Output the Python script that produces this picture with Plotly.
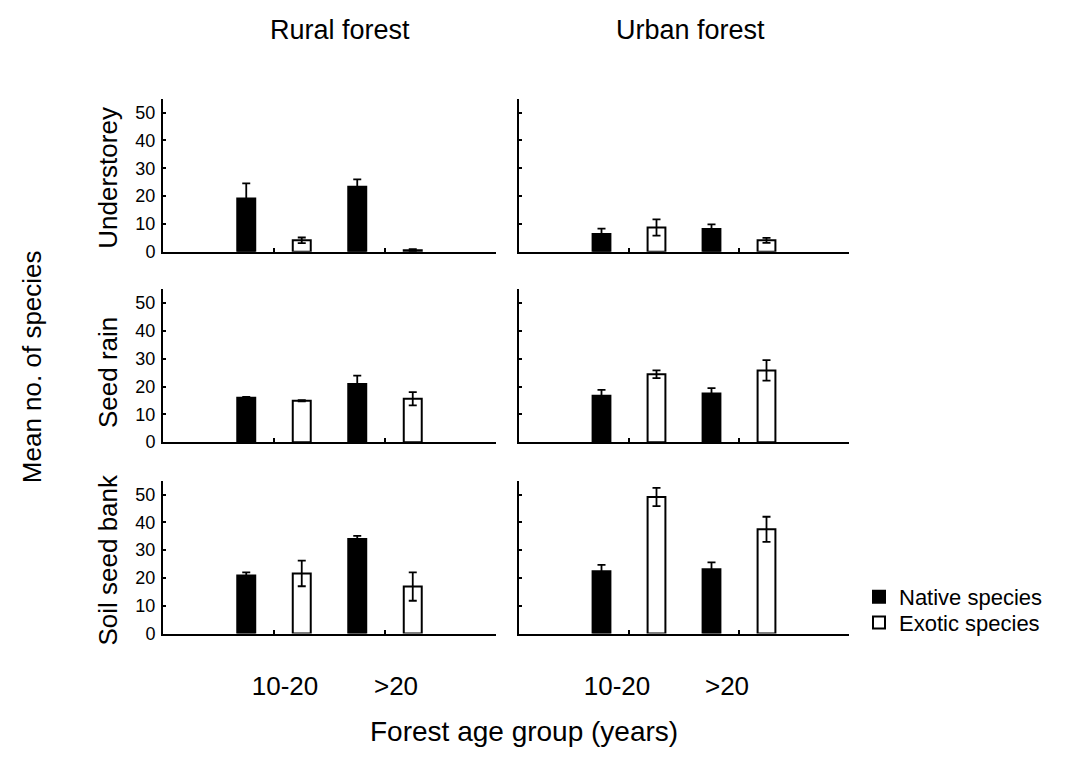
import plotly.graph_objects as go

# ---------------- data ----------------
age_groups = ["10-20", ">20"]
habitats = ["Rural forest", "Urban forest"]
layers = ["Understorey", "Seed rain", "Soil seed bank"]

# mean number of species  [10-20, >20]
native_understorey_rural = [19.1, 23.4]
native_understorey_rural_se = [5.5, 2.6]
exotic_understorey_rural = [4.1, 0.5]
exotic_understorey_rural_se = [1.0, 0.4]
native_understorey_urban = [6.4, 8.2]
native_understorey_urban_se = [1.9, 1.6]
exotic_understorey_urban = [8.7, 4.1]
exotic_understorey_urban_se = [2.9, 0.9]

native_seedrain_rural = [16.0, 20.9]
native_seedrain_rural_se = [0.3, 3.0]
exotic_seedrain_rural = [14.9, 15.6]
exotic_seedrain_rural_se = [0.2, 2.4]
native_seedrain_urban = [16.7, 17.5]
native_seedrain_urban_se = [2.1, 1.9]
exotic_seedrain_urban = [24.4, 25.8]
exotic_seedrain_urban_se = [1.4, 3.7]

native_soil_rural = [20.9, 34.0]
native_soil_rural_se = [1.1, 1.1]
exotic_soil_rural = [21.6, 16.9]
exotic_soil_rural_se = [4.6, 5.1]
native_soil_urban = [22.4, 23.1]
native_soil_urban_se = [2.3, 2.5]
exotic_soil_urban = [49.1, 37.5]
exotic_soil_urban_se = [3.3, 4.5]

y_ticks = [0, 10, 20, 30, 40, 50]

panels = [
    # (row, col, native, native_se, exotic, exotic_se)
    (0, 0, native_understorey_rural, native_understorey_rural_se, exotic_understorey_rural, exotic_understorey_rural_se),
    (0, 1, native_understorey_urban, native_understorey_urban_se, exotic_understorey_urban, exotic_understorey_urban_se),
    (1, 0, native_seedrain_rural, native_seedrain_rural_se, exotic_seedrain_rural, exotic_seedrain_rural_se),
    (1, 1, native_seedrain_urban, native_seedrain_urban_se, exotic_seedrain_urban, exotic_seedrain_urban_se),
    (2, 0, native_soil_rural, native_soil_rural_se, exotic_soil_rural, exotic_soil_rural_se),
    (2, 1, native_soil_urban, native_soil_urban_se, exotic_soil_urban, exotic_soil_urban_se),
]

# ---------------- layout helpers (pixel -> paper) ----------------
W, H = 1073, 750
OX, OY = 8, 8
FONT = "Liberation Sans, Arial, sans-serif"


def fx(px):
    return (px - OX) / W


def fy(py):
    return 1 - (py - OY) / H


col_px = [(163, 496), (519, 849)]
row_px = [(100, 255), (293, 448), (487, 642)]

fig = go.Figure()
layout = {}

x_pos = [i + 1 for i in range(len(age_groups))]

for k, (r, c, nat, nat_se, exo, exo_se) in enumerate(panels):
    idx = k + 1
    xa = "x" if idx == 1 else f"x{idx}"
    ya = "y" if idx == 1 else f"y{idx}"
    err_style = dict(type="data", visible=True, color="black", thickness=1.8, width=4)
    fig.add_trace(go.Bar(
        x=x_pos, y=nat, name="Native species",
        error_y=dict(array=nat_se, **err_style),
        marker=dict(color="black", line=dict(color="black", width=2)),
        xaxis=xa, yaxis=ya, showlegend=(k == 0), legend="legend",
    ))
    fig.add_trace(go.Bar(
        x=x_pos, y=exo, name="Exotic species",
        error_y=dict(array=exo_se, **err_style),
        marker=dict(color="white", line=dict(color="black", width=2)),
        xaxis=xa, yaxis=ya, showlegend=(k == 0), legend="legend2",
    ))
    xkey = "xaxis" if idx == 1 else f"xaxis{idx}"
    ykey = "yaxis" if idx == 1 else f"yaxis{idx}"
    x0, x1 = col_px[c]
    ytop, ybot = row_px[r]
    bottom = (r == 2)
    layout[xkey] = dict(
        domain=[fx(x0), fx(x1)], anchor=ya, range=[0, 3],
        tickvals=[1, 2, 3],
        ticktext=(age_groups + [""]) if bottom else ["", "", ""],
        showticklabels=bottom,
        ticks="inside", ticklen=4, tickwidth=1.5, tickcolor="black",
        showline=True, linecolor="black", linewidth=2,
        showgrid=False, zeroline=False, fixedrange=True,
        tickfont=dict(family=FONT, size=26, color="black"),
        ticklabelstandoff=28,
        ticklabelshift=(11 if c == 0 else -12),
    )
    layout[ykey] = dict(
        domain=[fy(ybot), fy(ytop)], anchor=xa, range=[0, 55],
        tickvals=y_ticks, showticklabels=(c == 0),
        ticks="inside", ticklen=3, tickwidth=1.5, tickcolor="black",
        showline=True, linecolor="black", linewidth=2,
        showgrid=False, zeroline=False, fixedrange=True,
        tickfont=dict(family=FONT, size=18, color="black"),
        ticklabelstandoff=2,
    )

annotations = [
    dict(text=habitats[0], x=fx(340), y=fy(30), size=27),
    dict(text=habitats[1], x=fx(690), y=fy(30), size=27),
    dict(text=layers[0], x=fx(108), y=fy(180), size=26, angle=-90),
    dict(text=layers[1], x=fx(108), y=fy(378), size=26, angle=-90),
    dict(text=layers[2], x=fx(108), y=fy(567), size=26, angle=-90),
    dict(text="Mean no. of species", x=fx(32), y=fy(372), size=26, angle=-90),
    dict(text="Forest age group (years)", x=fx(524), y=fy(741), size=28),
]
ann_list = []
for a in annotations:
    ann_list.append(dict(
        text=a["text"], x=a["x"], y=a["y"], xref="paper", yref="paper",
        xanchor="center", yanchor="middle", showarrow=False,
        textangle=a.get("angle", 0),
        font=dict(family=FONT, size=a["size"], color="black"),
    ))

leg_common = dict(
    xanchor="left", yanchor="middle", bgcolor="rgba(0,0,0,0)",
    font=dict(family=FONT, size=22, color="black"),
    borderwidth=0, itemclick=False, itemdoubleclick=False,
)

fig.update_layout(
    width=W, height=H,
    margin=dict(l=0, r=0, t=0, b=0),
    paper_bgcolor="white", plot_bgcolor="white",
    barmode="group", bargap=0.0, bargroupgap=0.676,
    showlegend=True,
    legend=dict(x=fx(859), y=fy(605), **leg_common),
    legend2=dict(x=fx(859), y=fy(631), **leg_common),
    annotations=ann_list,
    font=dict(family=FONT, color="black"),
    **layout,
)

fig.write_html("out.html")
